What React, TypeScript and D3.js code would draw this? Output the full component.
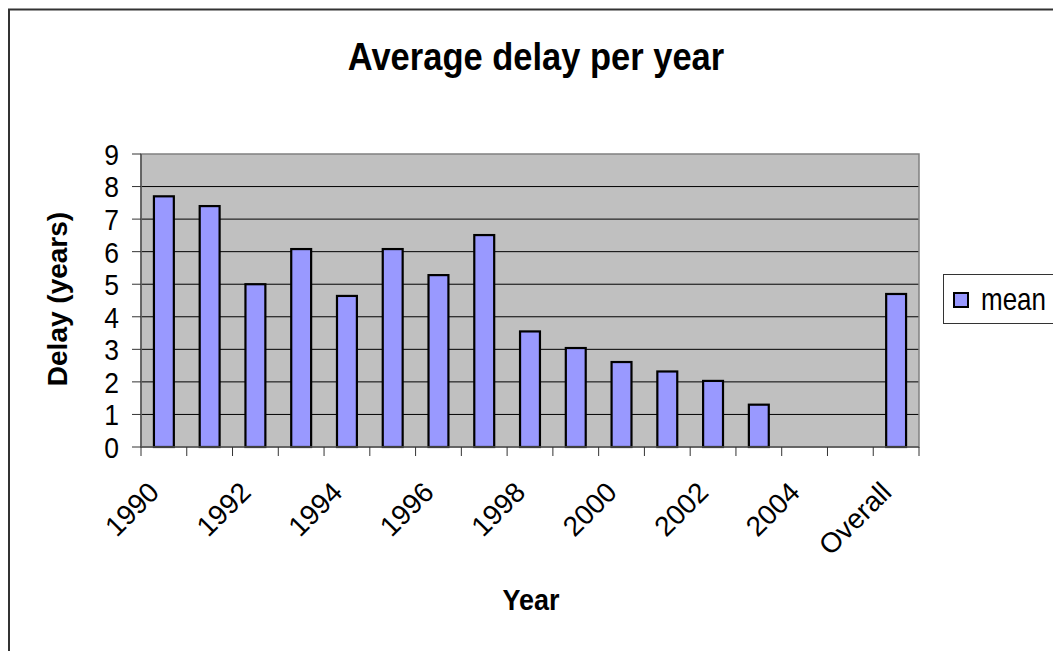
import React from "react";
import * as d3 from "d3";

const categories: string[] = [
  "1990", "1991", "1992", "1993", "1994", "1995", "1996", "1997",
  "1998", "1999", "2000", "2001", "2002", "2003", "2004", "2005", "Overall",
];
const meanValues: (number | null)[] = [
  7.7, 7.4, 5.0, 6.08, 4.64, 6.08, 5.28, 6.51,
  3.55, 3.04, 2.61, 2.32, 2.03, 1.3, null, null, 4.7,
];
const labeledCategories: string[] = [
  "1990", "1992", "1994", "1996", "1998", "2000", "2002", "2004", "Overall",
];
const yTicks: number[] = [0, 1, 2, 3, 4, 5, 6, 7, 8, 9];
const seriesName = "mean";
const titleText = "Average delay per year";
const xTitle = "Year";
const yTitle = "Delay (years)";

const W = 1053;
const H = 651;
const plot = { left: 141, right: 919, top: 154, bottom: 447 };
const FONT = "'Liberation Sans', Arial, sans-serif";
const BAR_FILL = "#9999FF";

export default function App() {
  const x = d3
    .scaleBand<string>()
    .domain(categories)
    .range([plot.left, plot.right])
    .padding(0);
  const y = d3.scaleLinear().domain([0, 9]).range([plot.bottom, plot.top]);
  const step = x.step();
  const barW = step * 0.435;

  const boundaries = d3.range(categories.length + 1).map((i) => plot.left + i * step);

  return (
    <svg
      width={W}
      height={H}
      style={{ position: "absolute", left: 0, top: 0, display: "block" }}
      fontFamily={FONT}
    >
      <rect x={0} y={0} width={W} height={H} fill="#ffffff" />
      <rect x={9} y={9.5} width={W + 20} height={H + 20} fill="none" stroke="#333333" strokeWidth={2} />

      <text
        transform={`translate(536,70) scale(1,1.14)`}
        textAnchor="middle"
        fontSize={34.5}
        fontWeight="bold"
        fill="#000"
      >
        {titleText}
      </text>

      <rect
        x={plot.left}
        y={plot.top}
        width={plot.right - plot.left}
        height={plot.bottom - plot.top}
        fill="#C0C0C0"
      />
      {yTicks.filter((t) => t > 0 && t < 9).map((t) => (
        <line key={"g" + t} x1={plot.left} x2={plot.right} y1={y(t)} y2={y(t)} stroke="#000" strokeWidth={1} />
      ))}
      <rect
        x={plot.left}
        y={plot.top}
        width={plot.right - plot.left}
        height={plot.bottom - plot.top}
        fill="none"
        stroke="#808080"
        strokeWidth={1.5}
      />

      {categories.map((c, i) => {
        const v = meanValues[i];
        if (v == null) return null;
        const cx = (x(c) as number) + step / 2;
        return (
          <rect
            key={"b" + c}
            x={cx - barW / 2}
            y={y(v)}
            width={barW}
            height={y(0) - y(v)}
            fill={BAR_FILL}
            stroke="#000"
            strokeWidth={2.2}
          />
        );
      })}

      <line x1={plot.left} x2={plot.left} y1={plot.top} y2={plot.bottom} stroke="#555" strokeWidth={1.5} />
      <line x1={plot.left} x2={plot.right} y1={plot.bottom} y2={plot.bottom} stroke="#555" strokeWidth={1.5} />
      {yTicks.map((t) => (
        <g key={"yt" + t}>
          <line x1={plot.left - 9} x2={plot.left} y1={y(t)} y2={y(t)} stroke="#333" strokeWidth={1} />
          <text
            transform={`translate(119,${y(t)}) scale(1,1.14)`}
            textAnchor="end"
            dy="0.36em"
            fontSize={26.5}
            fill="#000"
          >
            {t}
          </text>
        </g>
      ))}
      {boundaries.map((bx, i) => (
        <line key={"xt" + i} x1={bx} x2={bx} y1={plot.bottom} y2={plot.bottom + 9} stroke="#333" strokeWidth={1} />
      ))}
      {categories.map((c) => {
        if (!labeledCategories.includes(c)) return null;
        const cx = (x(c) as number) + step / 2;
        return (
          <text
            key={"xl" + c}
            transform={`translate(${cx - 3},${plot.bottom + 47}) rotate(-45)`}
            textAnchor="end"
            fontSize={28}
            fill="#000"
          >
            {c}
          </text>
        );
      })}

      <text
        transform={`translate(531,610) scale(1,1.12)`}
        textAnchor="middle"
        fontSize={27}
        fontWeight="bold"
        fill="#000"
      >
        {xTitle}
      </text>
      <text
        transform={`translate(67,299) rotate(-90)`}
        textAnchor="middle"
        fontSize={28}
        fontWeight="bold"
        fill="#000"
      >
        {yTitle}
      </text>

      <rect x={943.5} y={274.5} width={140} height={49} fill="#fff" stroke="#333" strokeWidth={1} />
      <rect x={954} y={293} width={14} height={14} fill={BAR_FILL} stroke="#000" strokeWidth={2} />
      <text
        transform={`translate(981,310) scale(1,1.18)`}
        fontSize={26}
        fill="#000"
      >
        {seriesName}
      </text>
    </svg>
  );
}
